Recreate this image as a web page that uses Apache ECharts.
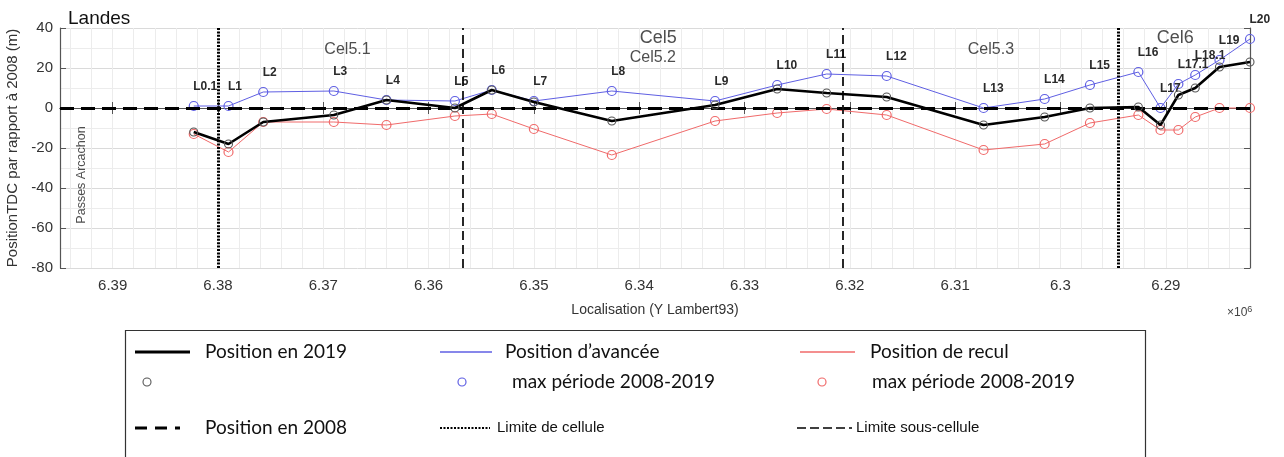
<!DOCTYPE html>
<html>
<head>
<meta charset="utf-8">
<script src="https://cdn.jsdelivr.net/npm/echarts@6/dist/echarts.min.js"></script>
<style>
  html, body { margin: 0; padding: 0; background: #fff; }
  #chart { width: 1284px; height: 457px; }
</style>
</head>
<body>
<div id="chart"></div>
<script>
// Profiles along the Landes coast, ordered north to south (Y Lambert93, metres)
const profileNames = ['L0.1', 'L1', 'L2', 'L3', 'L4', 'L5', 'L6', 'L7', 'L8', 'L9', 'L10',
  'L11', 'L12', 'L13', 'L14', 'L15', 'L16', 'L17', 'L17.1', 'L18.1', 'L19', 'L20'];
const lambertY = [6382300, 6379000, 6375700, 6369000, 6364000, 6357500, 6354000, 6350000,
  6342600, 6332800, 6326900, 6322200, 6316500, 6307300, 6301500, 6297200, 6292600,
  6290500, 6288800, 6287200, 6284900, 6282000];

// Shoreline position relative to 2008 (m)
const position2019 = [-12, -18, -7, -3.5, 4, 0, 9, 3, -6.5, 1.5, 9.5, 7.5, 5.5, -8.5, -4.5,
  0, 0.5, -8.5, 6.5, 10, 20.5, 23];
const advanceMax = [1, 1, 8, 8.5, 4, 3.5, 9, 3.5, 8.5, 3.5, 11.5, 17, 16, 0, 4.5, 11.5, 18,
  0, 12, 16.5, 24, 34.5];
const retreatMax = [-13, -22, -7, -7, -8.5, -4, -3, -10.5, -23.5, -6.5, -2.5, -0.5, -3.5,
  -21, -18, -7.5, -3.5, -11, -11, -4.5, 0, 0];

// Coastal cell and sub-cell boundaries (Y Lambert93)
const cellLimits = [6380000, 6294500];
const subCellLimits = [6356800, 6320700];

// Axis ticks
const xTickValues = [6290000, 6300000, 6310000, 6320000, 6330000, 6340000, 6350000,
  6360000, 6370000, 6380000, 6390000];

// Cell names and other annotations (data coordinates)
const annotationTexts = ['Cel5.1', 'Cel5', 'Cel5.2', 'Cel5.3', 'Cel6', 'Passes Arcachon'];
const annotationX = [6367700, 6338200, 6338700, 6306600, 6289100, 6393000];
const annotationY = [29, 35, 25, 29, 35, -33.5];

const AXIS_MIN = 6282000, AXIS_MAX = 6395000;

const annotationStyle = {
  'Cel5.1': { fontSize: 16 },
  'Cel5': { fontSize: 18 },
  'Cel5.2': { fontSize: 16 },
  'Cel5.3': { fontSize: 16 },
  'Cel6': { fontSize: 18 },
  'Passes Arcachon': { fontSize: 12.5, rotate: 90 }
};

const BLUE = '#5f5fe3';
const RED = '#f06a6a';
const SANS = 'Liberation Sans, Arial, sans-serif';
const LEG = 'Lato, "Open Sans", sans-serif';

const pairs = (ys) => lambertY.map((x, i) => [x, ys[i]]);

const chart = echarts.init(document.getElementById('chart'), null, { renderer: 'canvas' });

const xCommon = { type: 'value', min: AXIS_MIN, max: AXIS_MAX, inverse: true };

const option = {
  animation: false,
  backgroundColor: '#fff',
  title: {
    text: 'Landes', left: 63, top: 4,
    textStyle: { fontSize: 19, fontWeight: 'normal', color: '#111', fontFamily: SANS }
  },
  grid: { left: 60, right: 34, top: 28, bottom: 189, containLabel: false, outerBoundsMode: 'none' },
  xAxis: [
    Object.assign({}, xCommon, {
      position: 'bottom',
      name: 'Localisation (Y Lambert93)',
      nameLocation: 'middle', nameGap: 35,
      nameTextStyle: { fontSize: 14, color: '#333', fontFamily: SANS },
      axisLine: { show: true, lineStyle: { color: '#555', width: 1.2 } },
      axisTick: { show: true, inside: true, length: 6, customValues: xTickValues,
        lineStyle: { color: '#555' } },
      axisLabel: { customValues: xTickValues, margin: 10, fontSize: 15, color: '#333',
        fontFamily: SANS,
        formatter: (v) => (Math.round(v) % 10000 === 0 ? String(+(v / 1e6).toFixed(2)) : '') },
      splitLine: { show: true, lineStyle: { color: '#dadada', width: 1 } }
    }),
    Object.assign({}, xCommon, {
      position: 'top',
      axisLine: { show: true, lineStyle: { color: '#555', width: 1.2 } },
      axisTick: { show: true, inside: true, length: 6, customValues: xTickValues,
        lineStyle: { color: '#555' } },
      axisLabel: { show: false },
      splitLine: { show: false }
    }),
    Object.assign({}, xCommon, {
      interval: 2000,
      axisLine: { show: false }, axisTick: { show: false }, axisLabel: { show: false },
      splitLine: { show: true, lineStyle: { color: '#ececec', width: 1 } }
    })
  ],
  yAxis: [
    {
      type: 'value', min: -80, max: 40, interval: 20, position: 'left',
      name: 'PositionTDC par rapport à 2008 (m)',
      nameLocation: 'middle', nameGap: 35,
      nameTextStyle: { fontSize: 15, color: '#333', fontFamily: SANS },
      axisLine: { show: true, lineStyle: { color: '#555', width: 1.2 } },
      axisTick: { show: true, inside: true, length: 6, lineStyle: { color: '#555' } },
      axisLabel: { margin: 7, fontSize: 15, color: '#333', fontFamily: SANS },
      splitLine: { show: true, lineStyle: { color: '#dadada', width: 1 } },
      minorSplitLine: { show: true, lineStyle: { color: '#ececec', width: 1 } },
      minorTick: { show: false, splitNumber: 2 }
    },
    {
      type: 'value', min: -80, max: 40, interval: 20, position: 'right',
      axisLine: { show: true, lineStyle: { color: '#555', width: 1.2 } },
      axisTick: { show: true, inside: true, length: 6, lineStyle: { color: '#555' } },
      axisLabel: { show: false },
      splitLine: { show: false }
    }
  ],
  series: [
    {
      name: 'Position de recul',
      type: 'line', xAxisIndex: 0, yAxisIndex: 0,
      data: pairs(retreatMax),
      symbol: 'circle', symbolSize: 9, showAllSymbol: true,
      lineStyle: { color: RED, width: 1 },
      itemStyle: { color: 'rgba(0,0,0,0)', borderColor: RED, borderWidth: 1.2 },
      z: 3
    },
    {
      name: 'Position d’avancée',
      type: 'line', xAxisIndex: 0, yAxisIndex: 0,
      data: pairs(advanceMax),
      symbol: 'circle', symbolSize: 9, showAllSymbol: true,
      lineStyle: { color: BLUE, width: 1 },
      itemStyle: { color: 'rgba(0,0,0,0)', borderColor: BLUE, borderWidth: 1.2 },
      label: {
        show: true,
        position: [4.5, -14],
        align: 'left', verticalAlign: 'middle',
        fontSize: 12, fontWeight: 'bold', color: '#2a2a2a', fontFamily: SANS,
        formatter: (p) => profileNames[p.dataIndex]
      },
      labelLayout: { hideOverlap: false },
      z: 4
    },
    {
      name: 'Position en 2019',
      type: 'line', xAxisIndex: 0, yAxisIndex: 0,
      data: pairs(position2019),
      symbol: 'circle', symbolSize: 8, showAllSymbol: true,
      lineStyle: { color: '#000', width: 2.6 },
      itemStyle: { color: 'rgba(0,0,0,0)', borderColor: '#555', borderWidth: 1.1 },
      z: 5,
      markLine: {
        silent: true, symbol: 'none', label: { show: false }, animation: false,
        data: [
          { yAxis: 0, lineStyle: { color: '#000', width: 3, type: [14, 7] } }
        ].concat(
          cellLimits.map((v) => ({ xAxis: v, lineStyle: { color: '#000', width: 3, type: [2, 1.4] } })),
          subCellLimits.map((v) => ({ xAxis: v, lineStyle: { color: '#111', width: 1.8, type: [9, 5] } }))
        )
      }
    },
    {
      name: 'annotations',
      type: 'scatter', xAxisIndex: 0, yAxisIndex: 0,
      silent: true, symbolSize: 1,
      itemStyle: { color: 'rgba(0,0,0,0)' },
      data: annotationTexts.map((t, i) => ({
        value: [annotationX[i], annotationY[i]],
        label: Object.assign({
          show: true, position: 'inside', formatter: t,
          color: '#222', fontFamily: SANS
        }, annotationStyle[t])
      })),
      z: 6
    }
  ],
  graphic: [
    {
      type: 'text', left: 1227, top: 305, silent: true,
      style: {
        text: '{a|×10}{b|6}',
        rich: {
          a: { fontSize: 12, fill: '#444', fontFamily: SANS },
          b: { fontSize: 9, fill: '#444', fontFamily: SANS, verticalAlign: 'top', padding: [0, 0, 6, 0] }
        }
      }
    },
    // legend frame
    { type: 'rect', silent: true, shape: { x: 125.5, y: 330.5, width: 1020, height: 140 },
      style: { fill: '#fff', stroke: '#333', lineWidth: 1.2 } },
    // row 1
    { type: 'line', silent: true, shape: { x1: 135, y1: 352, x2: 190, y2: 352 }, style: { stroke: '#000', lineWidth: 3 } },
    { type: 'text', silent: true, x: 205, y: 352, style: { text: 'Position en 2019', font: '19px ' + LEG, fill: '#111', verticalAlign: 'middle' } },
    { type: 'line', silent: true, shape: { x1: 440, y1: 352, x2: 492, y2: 352 }, style: { stroke: BLUE, lineWidth: 1.3 } },
    { type: 'text', silent: true, x: 505, y: 352, style: { text: 'Position d’avancée', font: '19px ' + LEG, fill: '#111', verticalAlign: 'middle' } },
    { type: 'line', silent: true, shape: { x1: 800, y1: 352, x2: 855, y2: 352 }, style: { stroke: RED, lineWidth: 1.3 } },
    { type: 'text', silent: true, x: 870, y: 352, style: { text: 'Position de recul', font: '19px ' + LEG, fill: '#111', verticalAlign: 'middle' } },
    // row 2
    { type: 'circle', silent: true, shape: { cx: 147, cy: 382, r: 4 }, style: { fill: 'none', stroke: '#555', lineWidth: 1.1 } },
    { type: 'circle', silent: true, shape: { cx: 462, cy: 382, r: 4 }, style: { fill: 'none', stroke: BLUE, lineWidth: 1.2 } },
    { type: 'text', silent: true, x: 512, y: 382, style: { text: 'max période 2008-2019', font: '19px ' + LEG, fill: '#111', verticalAlign: 'middle' } },
    { type: 'circle', silent: true, shape: { cx: 822, cy: 382, r: 4 }, style: { fill: 'none', stroke: RED, lineWidth: 1.2 } },
    { type: 'text', silent: true, x: 872, y: 382, style: { text: 'max période 2008-2019', font: '19px ' + LEG, fill: '#111', verticalAlign: 'middle' } },
    // row 3
    { type: 'line', silent: true, shape: { x1: 135, y1: 428, x2: 180, y2: 428 }, style: { stroke: '#000', lineWidth: 3, lineDash: [12, 8] } },
    { type: 'text', silent: true, x: 205, y: 428, style: { text: 'Position en 2008', font: '19px ' + LEG, fill: '#111', verticalAlign: 'middle' } },
    { type: 'line', silent: true, shape: { x1: 440, y1: 428, x2: 490, y2: 428 }, style: { stroke: '#000', lineWidth: 2, lineDash: [2, 1.5] } },
    { type: 'text', silent: true, x: 497, y: 428, style: { text: 'Limite de cellule', font: '15px ' + SANS, fill: '#111', verticalAlign: 'middle' } },
    { type: 'line', silent: true, shape: { x1: 797, y1: 428, x2: 852, y2: 428 }, style: { stroke: '#000', lineWidth: 1.5, lineDash: [9, 4] } },
    { type: 'text', silent: true, x: 856, y: 428, style: { text: 'Limite sous-cellule', font: '15px ' + SANS, fill: '#111', verticalAlign: 'middle' } }
  ]
};

chart.setOption(option);
</script>
</body>
</html>
